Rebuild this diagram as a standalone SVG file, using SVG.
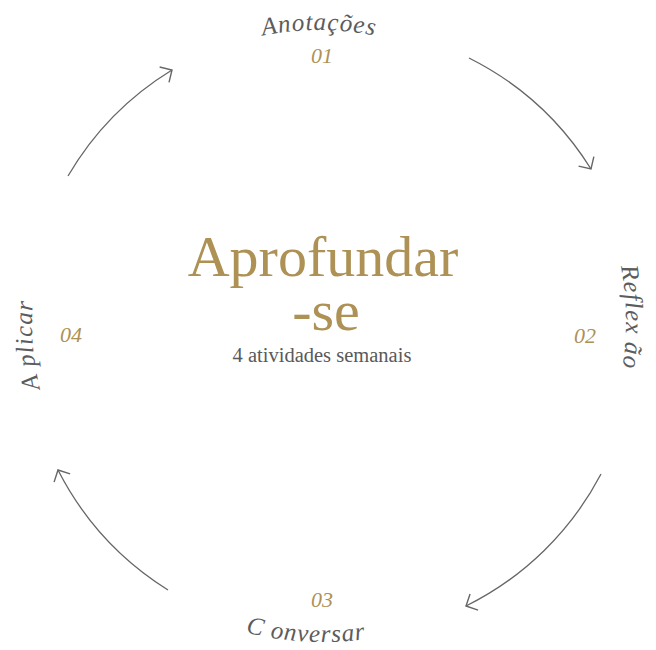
<svg xmlns="http://www.w3.org/2000/svg" xmlns:xlink="http://www.w3.org/1999/xlink" width="656" height="650" viewBox="0 0 656 650">
  <style>
    .lbl { font-family: "Liberation Serif", "DejaVu Serif", serif; font-style: italic; font-size: 25px; fill: #5c5c5c; letter-spacing: 1px; }
    .num { font-family: "Liberation Serif", "DejaVu Serif", serif; font-style: italic; font-size: 22px; fill: #ad9155; text-anchor: middle; }
    .title { font-family: "Liberation Serif", "DejaVu Serif", serif; font-size: 58px; fill: #ad9155; text-anchor: middle; }
    .sub { font-family: "Liberation Serif", "DejaVu Serif", serif; font-size: 20.5px; fill: #595959; text-anchor: middle; }
    .arc { fill: none; stroke: #666666; stroke-width: 1.3; marker-end: url(#arr); }
  </style>
  <defs>
    <marker id="arr" markerUnits="userSpaceOnUse" markerWidth="22" markerHeight="22" refX="10" refY="10" orient="auto" viewBox="0 0 22 22">
      <path d="M1,1 L10,10 L1,19" fill="none" stroke="#666666" stroke-width="1.4"/>
    </marker>
    <path id="pTop" d="M 27 322 A 292 292 0 0 1 611 322"/>
    <path id="pRight" d="M 323 19 A 303 303 0 0 1 323 625"/>
    <path id="pLeft" d="M 323 613 A 291 291 0 0 1 323 31"/>
    <path id="pBottom" d="M 3 322 A 320 320 0 0 0 643 322"/>
  </defs>

  <g id="connectors">
    <path class="arc" d="M 469 58 A 305 305 0 0 1 591 169"/>
    <path class="arc" d="M 601 474 A 305 305 0 0 1 466 606"/>
    <path class="arc" d="M 168 590 A 305 305 0 0 1 58 470"/>
    <path class="arc" d="M 68 176 A 305 305 0 0 1 172 70"/>
  </g>

  <g id="center">
    <text class="title"><tspan x="323" y="276">Aprofundar</tspan><tspan x="326" y="330">-se</tspan></text>
    <text class="sub" x="322" y="362">4 atividades semanais</text>
  </g>

  <g id="node-01">
    <text class="lbl" text-anchor="middle"><textPath xlink:href="#pTop" href="#pTop" startOffset="50%">Anotações</textPath></text>
    <text class="num" x="322" y="63">01</text>
  </g>

  <g id="node-02">
    <text class="lbl" text-anchor="middle"><textPath xlink:href="#pRight" href="#pRight" startOffset="49.5%">Reflex ão</textPath></text>
    <text class="num" x="585" y="343">02</text>
  </g>

  <g id="node-03">
    <text class="lbl" text-anchor="middle"><textPath xlink:href="#pBottom" href="#pBottom" startOffset="485">C onversar</textPath></text>
    <text class="num" x="322" y="607">03</text>
  </g>

  <g id="node-04">
    <text class="lbl" text-anchor="middle"><textPath xlink:href="#pLeft" href="#pLeft" startOffset="434">A plicar</textPath></text>
    <text class="num" x="71" y="342">04</text>
  </g>
</svg>
